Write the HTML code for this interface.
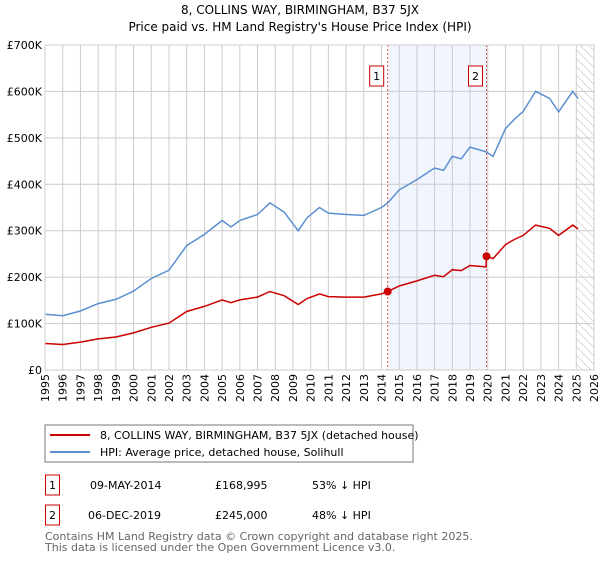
<!DOCTYPE html>
<html><head><meta charset="utf-8">
<style>
body{margin:0;background:#fff;font-family:"DejaVu Sans","Liberation Sans",sans-serif;}
svg text{font-family:"DejaVu Sans","Liberation Sans",sans-serif;}
</style></head>
<body>
<svg width="600" height="560" xmlns="http://www.w3.org/2000/svg">
<defs>
<pattern id="hatch" width="6" height="6" patternUnits="userSpaceOnUse" patternTransform="rotate(-45)">
<line x1="0" y1="0" x2="0" y2="6" stroke="#bbb" stroke-width="1"/>
</pattern>
</defs>
<text x="300" y="14" text-anchor="middle" font-size="12">8, COLLINS WAY, BIRMINGHAM, B37 5JX</text>
<text x="300" y="31" text-anchor="middle" font-size="12">Price paid vs. HM Land Registry's House Price Index (HPI)</text>
<g id="plot"></g>
<rect x="45" y="425" width="368" height="37" fill="#fff" stroke="#777"/>
<line x1="50" y1="435" x2="90" y2="435" stroke="#cc0000" stroke-width="2"/>
<text x="100" y="439" font-size="11">8, COLLINS WAY, BIRMINGHAM, B37 5JX (detached house)</text>
<line x1="50" y1="452" x2="90" y2="452" stroke="#5b8fd0" stroke-width="2"/>
<text x="100" y="456" font-size="11">HPI: Average price, detached house, Solihull</text>
<g>
<rect x="45.5" y="475" width="14" height="20" fill="#fff" stroke="#cc0000"/>
<text x="52.5" y="489" font-size="11" text-anchor="middle">1</text>
<text x="90" y="489" font-size="11">09-MAY-2014</text>
<text x="215" y="489" font-size="11">£168,995</text>
<text x="312" y="489" font-size="11">53% ↓ HPI</text>
</g>
<g>
<rect x="45.5" y="505" width="14" height="20" fill="#fff" stroke="#cc0000"/>
<text x="52.5" y="519" font-size="11" text-anchor="middle">2</text>
<text x="88" y="519" font-size="11">06-DEC-2019</text>
<text x="215" y="519" font-size="11">£245,000</text>
<text x="312" y="519" font-size="11">48% ↓ HPI</text>
</g>
<text x="45" y="540" font-size="11" fill="#666">Contains HM Land Registry data © Crown copyright and database right 2025.</text>
<text x="45" y="551" font-size="11" fill="#666">This data is licensed under the Open Government Licence v3.0.</text>
</svg>
<script>
const hpiYears=[1995,1996,1997,1998,1999,2000,2001,2002,2003,2004,2005,2005.5,2006,2007,2007.7,2008.5,2009.3,2009.8,2010.5,2011,2012,2013,2014,2014.35,2015,2016,2017,2017.5,2018,2018.5,2019,2019.9,2020.3,2021,2021.5,2022,2022.7,2023.5,2024,2024.8,2025.1];
const hpiValues=[120,117,127,143,152,170,197,215,268,292,322,308,322,335,360,340,300,328,350,338,335,333,350,360,388,410,435,430,460,455,480,470,460,520,540,557,600,585,556,600,585];
const priceYears=[1995,1996,1997,1998,1999,2000,2001,2002,2003,2004,2005,2005.5,2006,2007,2007.7,2008.5,2009.3,2009.8,2010.5,2011,2012,2013,2014,2014.35,2015,2016,2017,2017.5,2018,2018.5,2019,2019.9,2019.93,2020.3,2021,2021.5,2022,2022.7,2023.5,2024,2024.8,2025.1];
const priceValues=[57,55,60,67,71,80,92,101,126,137,151,145,151,157,169,160,141,154,164,158,157,157,164,169,181,192,204,201,216,214,225,222,245,240,270,281,290,312,305,290,312,304];
const saleYears=[2014.35,2019.93];
const saleValues=[169.0,245.0];
const saleLabels=["1","2"];
const yTicks=[0,100,200,300,400,500,600,700];
const yTickLabels=["£0","£100K","£200K","£300K","£400K","£500K","£600K","£700K"];
const xTicks=[1995,1996,1997,1998,1999,2000,2001,2002,2003,2004,2005,2006,2007,2008,2009,2010,2011,2012,2013,2014,2015,2016,2017,2018,2019,2020,2021,2022,2023,2024,2025,2026];

const L=45,R=594,T=45,B=370,X0=1995,X1=2026,Ymax=700;
const xs=v=>L+(v-X0)/(X1-X0)*(R-L);
const ys=v=>B-v/Ymax*(B-T);
const NS="http://www.w3.org/2000/svg";
const g=document.getElementById('plot');
function mk(t,a){const e=document.createElementNS(NS,t);for(const k in a)e.setAttribute(k,a[k]);g.appendChild(e);return e;}
let e;
e=mk('rect',{x:L,y:T,width:R-L,height:B-T,fill:'#fff'});


e=mk('rect',{x:xs(saleYears[0]),y:T,width:xs(saleYears[1])-xs(saleYears[0]),height:B-T,fill:'#eef3fc',opacity:0.8});


xTicks.forEach((v,i)=>{
 e=mk('line',{x1:xs(v),x2:xs(v),y1:T,y2:B,stroke:'#ccc','stroke-width':1});
 
 
 e=mk('text',{x:0,y:0,'font-size':11,'text-anchor':'end',transform:`translate(${xs(v)+4},${B+4}) rotate(-90)`});
 e.textContent=v;
 
 
});
yTicks.forEach((v,i)=>{
 e=mk('line',{x1:L,x2:R,y1:ys(v),y2:ys(v),stroke:'#ccc','stroke-width':1});
 
 
 e=mk('text',{x:L-3,y:ys(v)+4,'font-size':11,'text-anchor':'end'});
 e.textContent=yTickLabels[i];
 
 
});
e=mk('rect',{x:xs(2025.0),y:T,width:R-xs(2025.0),height:B-T,fill:'url(#hatch)'});


saleYears.forEach((v,i)=>{
 e=mk('line',{x1:xs(v),x2:xs(v),y1:T,y2:B,stroke:'#e05050','stroke-width':1,'stroke-dasharray':'2,2'});
 
 
 e=mk('rect',{x:xs(v)-18,y:66,width:14,height:20,fill:'#fff',stroke:'#cc0000'});
 
 
 e=mk('text',{x:xs(v)-11,y:80,'font-size':11,'text-anchor':'middle'});
 e.textContent=saleLabels[i];
 
 
});
const pts=(xa,ya)=>xa.map((x,i)=>xs(x).toFixed(1)+','+ys(ya[i]).toFixed(1)).join(' ');
e=mk('polyline',{points:pts(hpiYears,hpiValues),fill:'none',stroke:'#5b8fd0','stroke-width':1.5});


e=mk('polyline',{points:pts(priceYears,priceValues),fill:'none',stroke:'#cc0000','stroke-width':1.5});


saleYears.forEach((v,i)=>{
 e=mk('circle',{cx:xs(v),cy:ys(saleValues[i]),r:4,fill:'#cc0000'});
 
 
});
e=mk('rect',{x:L,y:T,width:R-L,height:B-T,fill:'none',stroke:'#ccc'});


</script>
</body></html>
